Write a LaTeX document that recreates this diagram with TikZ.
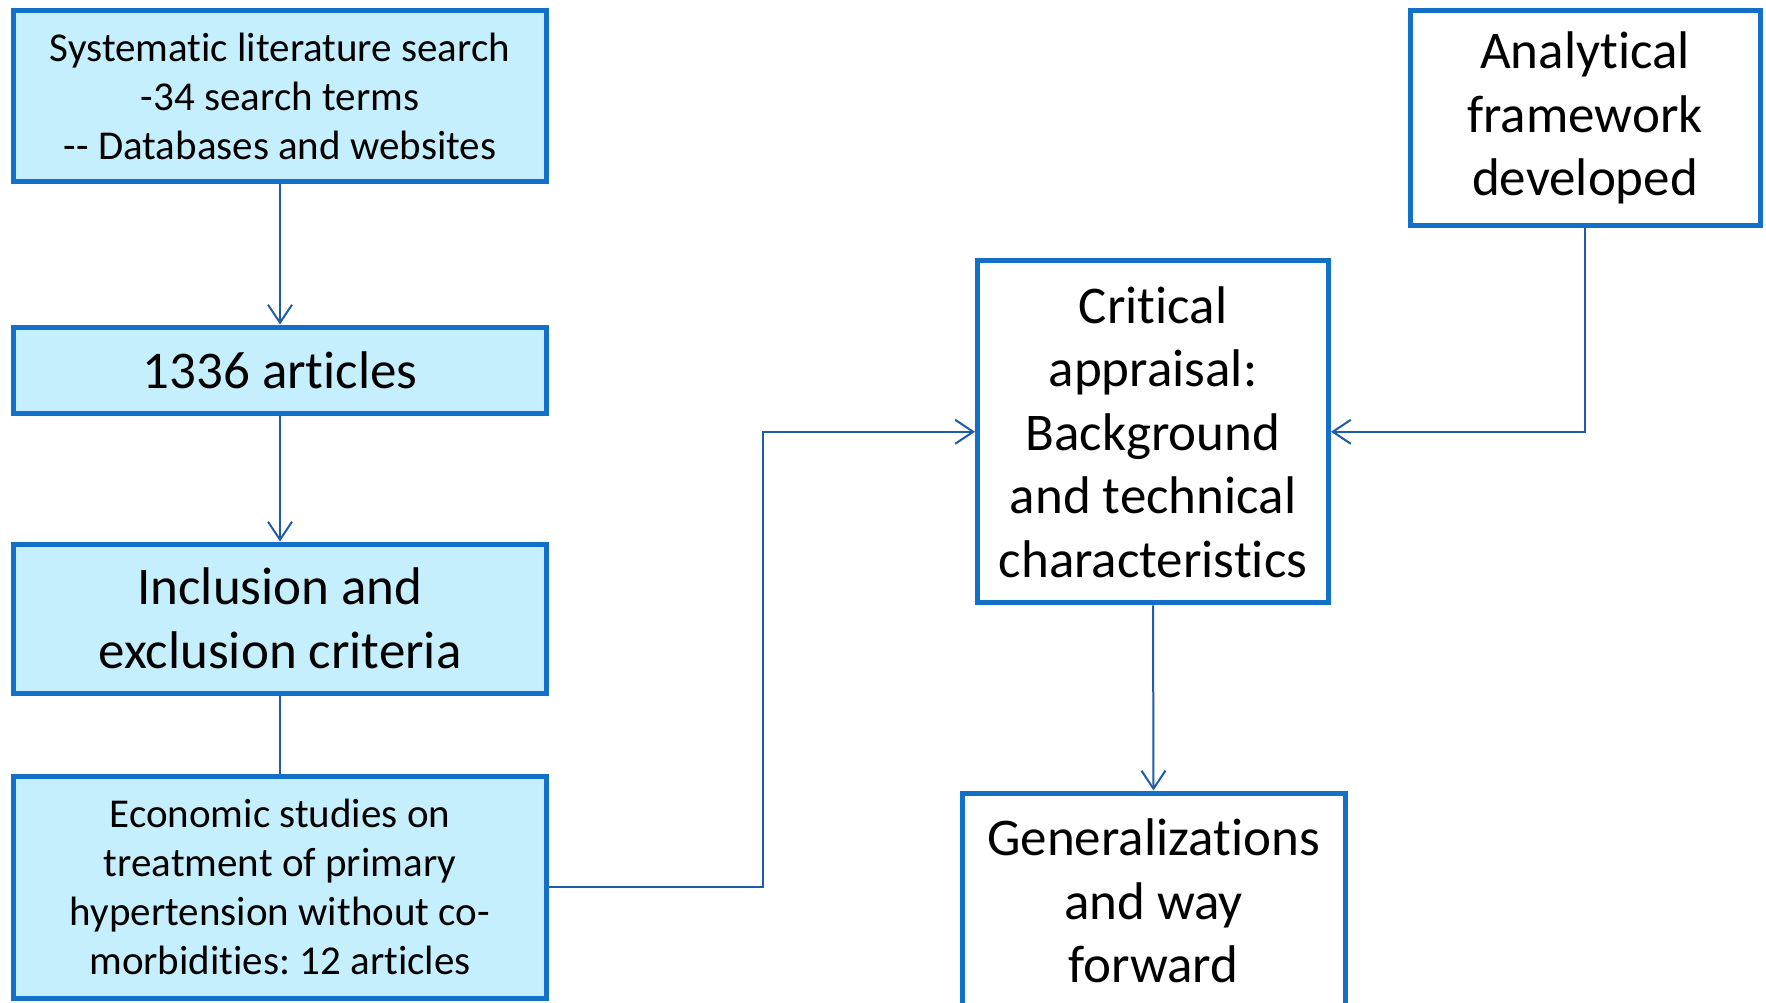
\documentclass[tikz,border=0pt]{standalone}
\usepackage{fontspec}
\setmainfont{Carlito}[Ligatures={NoCommon}]
\usetikzlibrary{arrows.meta}
\frenchspacing
\definecolor{boxfill}{RGB}{198,239,254}
\definecolor{boxline}{RGB}{18,112,200}
\definecolor{conn}{RGB}{30,92,168}
\begin{document}
\begin{tikzpicture}[x=1pt,y=-1pt,
  bluebox/.style={draw=boxline, line width=5pt, fill=boxfill, inner sep=0pt, align=center, text=black},
  whitebox/.style={draw=boxline, line width=5pt, fill=white, inner sep=0pt, align=center, text=black},
  smalltxt/.style={font=\fontsize{41}{49}\selectfont\frenchspacing},
  bigtxt/.style={font=\fontsize{53}{63.5}\selectfont\frenchspacing},
  link/.style={draw=conn, line width=2pt},
  arr/.style={link, -{Straight Barb[length=18pt,width=24pt,line width=2pt]}}]
\useasboundingbox (0,0) rectangle (1766,1003);
\fill[white] (0,0) rectangle (1766,1003);
\clip (0,0) rectangle (1766,1003);

\node[bluebox, smalltxt, minimum width=533, minimum height=171] (search) at (280,96.5)
  {Systematic literature search\\-34 search terms\\-{}- Databases and websites};
\node[bluebox, bigtxt, minimum width=533, minimum height=86] (arts) at (280,370)
  {1336 articles};
\node[bluebox, bigtxt, minimum width=533, minimum height=149] (incl) at (280,618.5)
  {Inclusion and\\exclusion criteria};
\node[bluebox, smalltxt, minimum width=533, minimum height=222] (econ) at (280,887)
  {Economic studies on\\treatment of primary\\hypertension without co-\\morbidities: 12 articles};
\node[whitebox, bigtxt, minimum width=351, minimum height=342] (crit) at (1153,431.8)
  {Critical\\appraisal:\\Background\\and technical\\characteristics};
\node[whitebox, bigtxt, minimum width=350, minimum height=214] (ana) at (1585,118)
  {Analytical\\framework\\developed};
\node[whitebox, bigtxt, minimum width=383, minimum height=216] (gen) at (1153.5,901)
  {Generalizations\\and way\\forward};

\coordinate (k) at (762.5,887);
\draw[arr] (search.south) -- (arts.north);
\draw[arr] (arts.south) -- (incl.north);
\draw[link] (incl.south) -- (econ.north);
\draw[arr] (econ.east) -- (k) |- (crit.west);
\draw[arr] (ana.south) |- (crit.east);
\draw[arr] (crit.south) -- (gen.north);
\end{tikzpicture}
\end{document}
